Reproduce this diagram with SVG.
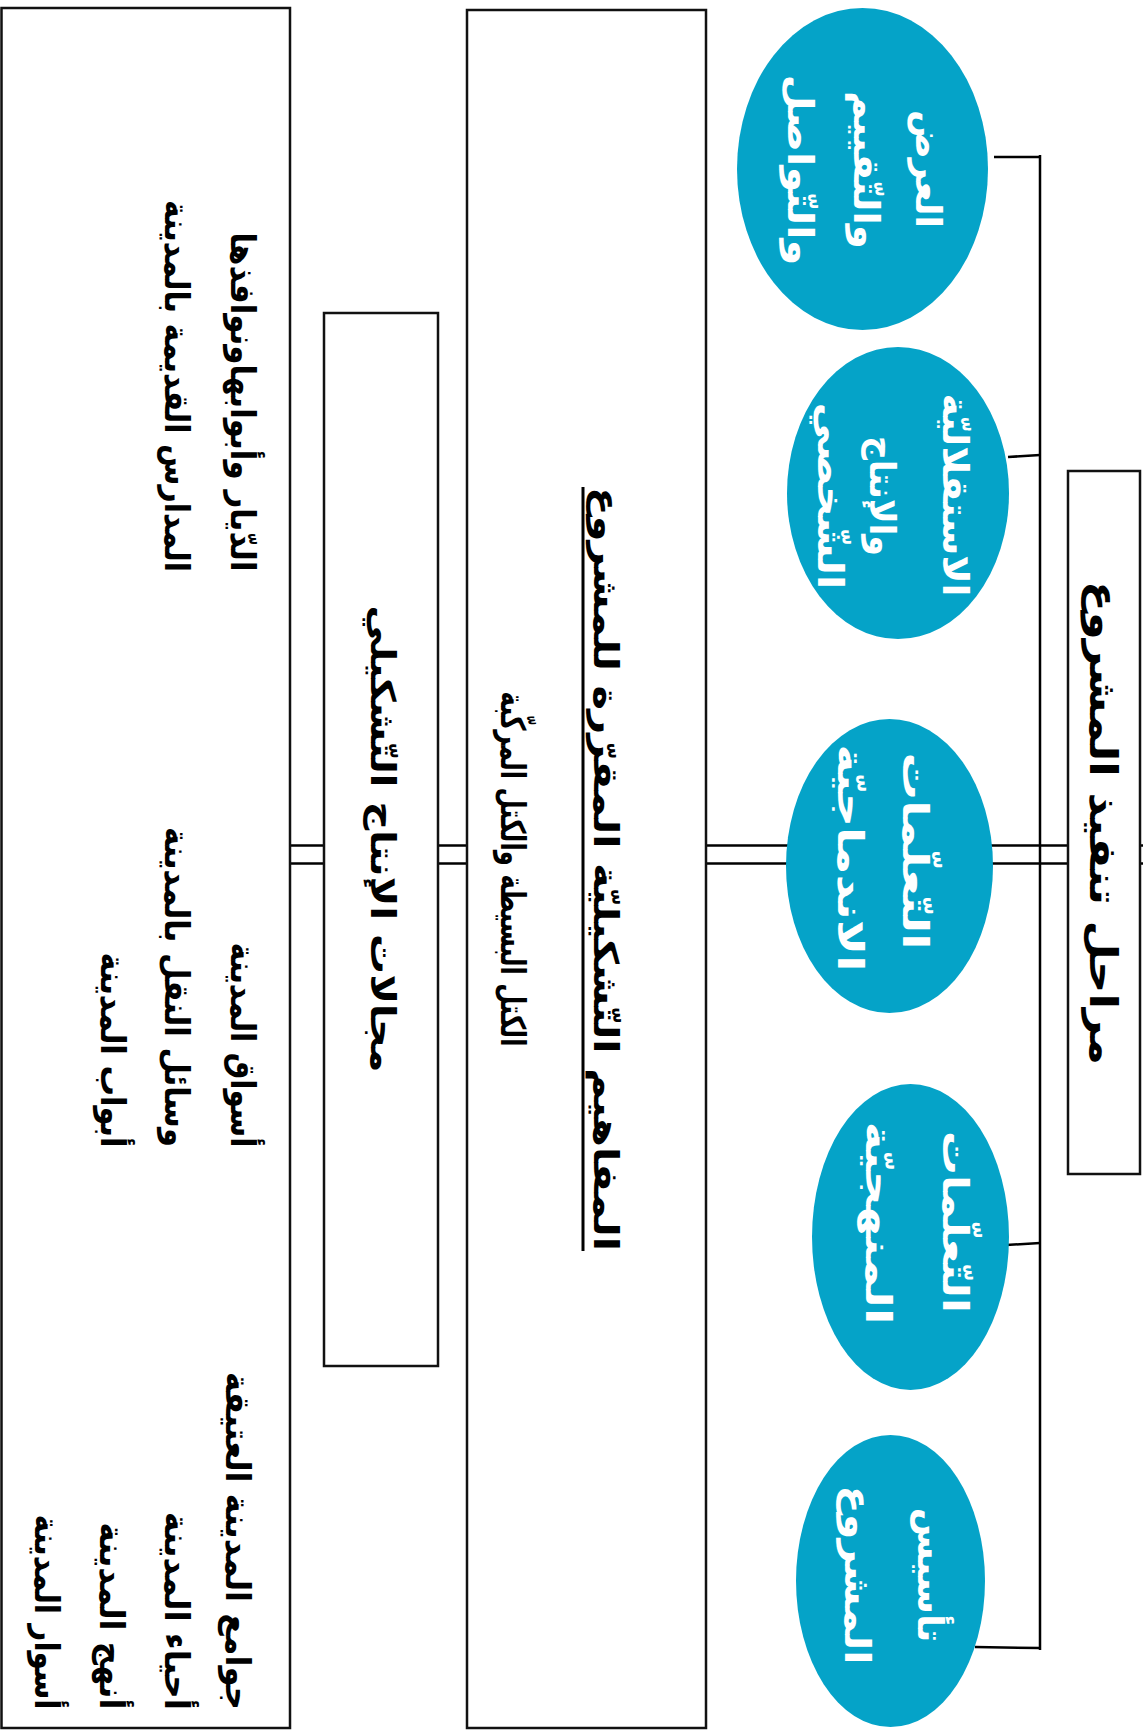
<svg xmlns="http://www.w3.org/2000/svg" width="1143" height="1735" viewBox="0 0 1143 1735">
<style>
.box{fill:#fff;stroke:#111;stroke-width:2.5}
.ell{fill:#05A3C8}
.conn{stroke:#000;stroke-width:2.5;fill:none}
.t{font-family:"DejaVu Sans",sans-serif;font-weight:bold;text-anchor:middle;dominant-baseline:central}
.w{fill:#fff;font-size:36px}
.b{fill:#000;font-size:34px}
</style>
<rect width="1143" height="1735" fill="#fff"/>
<g id="connectors">
<line class="conn" x1="290" y1="845.5" x2="1143" y2="845.5"/>
<line class="conn" x1="290" y1="863.5" x2="1143" y2="863.5"/>
<line class="conn" x1="1040" y1="155" x2="1040" y2="1650"/>
<line class="conn" x1="994" y1="157" x2="1040" y2="157"/>
<line class="conn" x1="1008" y1="457" x2="1040" y2="455"/>
<line class="conn" x1="1006" y1="1245" x2="1040" y2="1243"/>
<line class="conn" x1="975" y1="1647" x2="1040" y2="1648"/>
</g>
<g id="left-box">
<rect class="box" x="1.5" y="8" width="288.5" height="1720"/>
<text class="t b" transform="translate(243,402) rotate(90)" textLength="339" lengthAdjust="spacingAndGlyphs">الدّيار وأبوابهاونوافذها</text>
<text class="t b" transform="translate(177,386) rotate(90)" textLength="372" lengthAdjust="spacingAndGlyphs">المدارس القديمة بالمدينة</text>
<text class="t b" transform="translate(243,1045) rotate(90)" textLength="205" lengthAdjust="spacingAndGlyphs">أسواق المدينة</text>
<text class="t b" transform="translate(177,987) rotate(90)" textLength="320" lengthAdjust="spacingAndGlyphs">وسائل النقل بالمدينة</text>
<text class="t b" transform="translate(113,1050) rotate(90)" textLength="195" lengthAdjust="spacingAndGlyphs">أبواب المدينة</text>
<text class="t b" transform="translate(238,1541) rotate(90)" textLength="338" lengthAdjust="spacingAndGlyphs">جوامع المدينة العتيقة</text>
<text class="t b" transform="translate(177,1611) rotate(90)" textLength="198" lengthAdjust="spacingAndGlyphs">أحياء المدينة</text>
<text class="t b" transform="translate(112,1616) rotate(90)" textLength="187" lengthAdjust="spacingAndGlyphs">أنهج المدينة</text>
<text class="t b" transform="translate(47,1612) rotate(90)" textLength="195" lengthAdjust="spacingAndGlyphs">أسوار المدينة</text>
</g>
<g id="domains-box">
<rect class="box" x="324" y="313" width="114" height="1053"/>
<text class="t b" transform="translate(383,839) rotate(90)" textLength="467" lengthAdjust="spacingAndGlyphs">مجالات الإنتاج التّشكيلي</text>
</g>
<g id="concepts-box">
<rect class="box" x="467" y="10" width="239" height="1718"/>
<text class="t b" transform="translate(606,869) rotate(90)" textLength="764" lengthAdjust="spacingAndGlyphs">المفاهيم التّشكيليّة المقرّرة للمشروع</text>
<line x1="583" y1="487" x2="583" y2="1251" stroke="#000" stroke-width="3"/>
<text class="t b" transform="translate(513,869) rotate(90)" textLength="355" lengthAdjust="spacingAndGlyphs">الكتل البسيطة والكتل المركّبة</text>
</g>
<g id="title-box">
<rect class="box" x="1068" y="471" width="72" height="703"/>
<text class="t b" style="font-size:38px" transform="translate(1103,823) rotate(90)" textLength="484" lengthAdjust="spacingAndGlyphs">مراحل تنفيذ المشروع</text>
</g>
<g id="stage-5">
<ellipse class="ell" cx="862.5" cy="169" rx="125.5" ry="161"/>
<text class="t w" transform="translate(928,169) rotate(90)" textLength="118" lengthAdjust="spacingAndGlyphs">العرض</text>
<text class="t w" transform="translate(866,170) rotate(90)" textLength="158" lengthAdjust="spacingAndGlyphs">والتّقييم</text>
<text class="t w" transform="translate(800,170) rotate(90)" textLength="191" lengthAdjust="spacingAndGlyphs">والتّواصل</text>
</g>
<g id="stage-4">
<ellipse class="ell" cx="898" cy="493" rx="111" ry="146"/>
<text class="t w" transform="translate(955,495) rotate(90)" textLength="203" lengthAdjust="spacingAndGlyphs">الاستقلاليّة</text>
<text class="t w" transform="translate(882,496) rotate(90)" textLength="120" lengthAdjust="spacingAndGlyphs">والإنتاج</text>
<text class="t w" transform="translate(830,496) rotate(90)" textLength="187" lengthAdjust="spacingAndGlyphs">الشّخصي</text>
</g>
<g id="stage-3">
<ellipse class="ell" cx="889.5" cy="866" rx="103.5" ry="147"/>
<text class="t w" transform="translate(915,851) rotate(90)" textLength="197" lengthAdjust="spacingAndGlyphs">التّعلّمات</text>
<text class="t w" transform="translate(850,858) rotate(90)" textLength="227" lengthAdjust="spacingAndGlyphs">الاندماجيّة</text>
</g>
<g id="stage-2">
<ellipse class="ell" cx="910.5" cy="1237" rx="98.5" ry="153"/>
<text class="t w" transform="translate(955,1222) rotate(90)" textLength="182" lengthAdjust="spacingAndGlyphs">التّعلّمات</text>
<text class="t w" transform="translate(878,1223) rotate(90)" textLength="203" lengthAdjust="spacingAndGlyphs">المنهجيّة</text>
</g>
<g id="stage-1">
<ellipse class="ell" cx="890.5" cy="1581" rx="94.5" ry="146"/>
<text class="t w" transform="translate(930,1575) rotate(90)" textLength="135" lengthAdjust="spacingAndGlyphs">تأسيس</text>
<text class="t w" transform="translate(857,1575) rotate(90)" textLength="179" lengthAdjust="spacingAndGlyphs">المشروع</text>
</g>
</svg>
